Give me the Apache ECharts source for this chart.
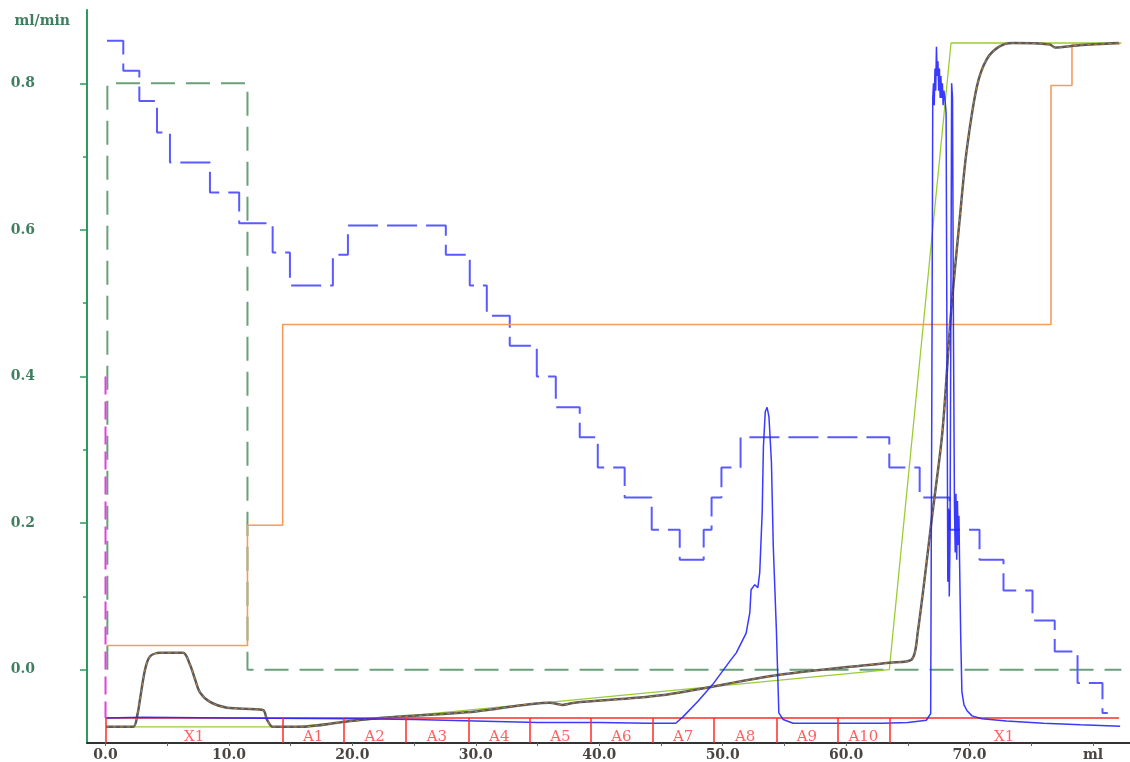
<!DOCTYPE html>
<html><head><meta charset="utf-8">
<script src="https://cdn.jsdelivr.net/npm/echarts@6/dist/echarts.min.js"></script>
<style>html,body{margin:0;padding:0;background:#fff}#c{width:1130px;height:762px}</style>
</head><body><div id="c"></div>
<script>
// ---- axis values ----
const xLabelValues = [0, 10, 20, 30, 40, 50, 60, 70, 80];
const xTickValues = [0, 5, 10, 15, 20, 25, 30, 35, 40, 45, 50, 55, 60, 65, 70, 75, 80];
const yLabelValues = [0, 0.2, 0.4, 0.6, 0.8];
const yMinorTickValues = [0.1, 0.3, 0.5, 0.7];

// ---- series values [ml, ml/min] ----
const flowSetpoint = [[0.15, 0.0], [0.15, 0.8], [11.5, 0.8], [11.5, 0.0], [82.3, 0.0]];
const pressureSteps = [
  [0.12, 0.858], [1.44, 0.817], [2.74, 0.776], [4.17, 0.733], [5.22, 0.692], [8.46, 0.651],
  [10.83, 0.609], [13.54, 0.569], [14.94, 0.524], [18.42, 0.566], [19.64, 0.606], [27.57, 0.566],
  [29.51, 0.524], [30.89, 0.483], [32.75, 0.442], [34.94, 0.400], [36.48, 0.358], [38.42, 0.317],
  [39.88, 0.276], [42.06, 0.235], [44.25, 0.191], [46.52, 0.150], [48.46, 0.191], [49.1, 0.235],
  [49.9, 0.276], [51.45, 0.317], [63.5, 0.276], [65.96, 0.235], [68.38, 0.191], [70.81, 0.150],
  [72.75, 0.108], [75.1, 0.067], [76.9, 0.025], [78.75, -0.018], [80.77, -0.059], [81.2, -0.059]
];
const concSetpoint = [[0.1, 0.033], [11.5, 0.033], [11.5, 0.197], [14.35, 0.197], [14.35, 0.471],
  [76.6, 0.471], [76.6, 0.797], [78.3, 0.797], [78.3, 0.853], [82.2, 0.854]];
const gradientProgram = [[0.1, -0.078], [15.2, -0.078], [63.5, 0.0], [68.5, 0.855], [82.3, 0.855]];
const conductivity = [
  [0.04, -0.078], [2.23, -0.078], [2.6, -0.06], [2.79, -0.041], [3.2, 0.0], [3.6, 0.018], [4.41, 0.023],
  [6.28, 0.023], [6.84, 0.007], [7.25, -0.013], [7.65, -0.031], [8.46, -0.044], [9.84, -0.052],
  [12.75, -0.055], [13.08, -0.068], [13.56, -0.078], [15.75, -0.078], [19.4, -0.071], [22.2, -0.066],
  [30.0, -0.057], [36.0, -0.045], [37.0, -0.048], [38.0, -0.045], [45.0, -0.035], [54.6, -0.007],
  [63.5, 0.0096], [65.3, 0.0137], [65.8, 0.0505], [67.0, 0.214], [67.8, 0.324], [68.5, 0.487],
  [69.2, 0.614], [69.75, 0.706], [70.6, 0.796], [71.4, 0.833], [72.4, 0.850], [73.5, 0.855],
  [76.5, 0.853], [76.9, 0.849], [78.9, 0.852], [82.1, 0.855]
];
const uvTrace = [
  [0.05, -0.066], [3, -0.065], [10, -0.066], [20, -0.067], [25, -0.068], [30, -0.070], [35, -0.072],
  [40, -0.072], [44, -0.073], [46.2, -0.073], [46.8, -0.064], [48.0, -0.043], [49.2, -0.020],
  [50.6, 0.012], [51.1, 0.023], [51.9, 0.050], [52.2, 0.078], [52.3, 0.109], [52.6, 0.116],
  [52.85, 0.112], [53.0, 0.132], [53.2, 0.214], [53.3, 0.304], [53.45, 0.352], [53.6, 0.358],
  [53.75, 0.345], [53.95, 0.283], [54.1, 0.168], [54.35, 0.055], [54.55, -0.059], [54.9, -0.068],
  [55.7, -0.073], [60, -0.073], [63, -0.073], [65, -0.072], [66.5, -0.069], [66.85, -0.060],
  [66.95, 0.40], [67.02, 0.78], [67.08, 0.80], [67.14, 0.77], [67.2, 0.82], [67.26, 0.79],
  [67.32, 0.85], [67.38, 0.81], [67.44, 0.83], [67.5, 0.79], [67.56, 0.82], [67.62, 0.78],
  [67.68, 0.81], [67.74, 0.78], [67.8, 0.80], [67.86, 0.77], [67.92, 0.79], [68.0, 0.78],
  [68.1, 0.76], [68.18, 0.40], [68.24, 0.12], [68.3, 0.22], [68.36, 0.10], [68.42, 0.18],
  [68.48, 0.45], [68.55, 0.80], [68.62, 0.78], [68.7, 0.45], [68.78, 0.22], [68.84, 0.16],
  [68.9, 0.24], [68.96, 0.15], [69.02, 0.23], [69.08, 0.17], [69.14, 0.21], [69.2, 0.14],
  [69.28, 0.05], [69.38, -0.03], [69.55, -0.048], [69.8, -0.056], [70.2, -0.063], [71, -0.067],
  [73, -0.070], [76, -0.073], [79, -0.075], [82.2, -0.077]
];
const injectMark = [[0, 0.4], [0, -0.066]];
const fractionEdges = [0, 14.35, 19.3, 24.3, 29.4, 34.4, 39.3, 44.3, 49.3, 54.35, 59.3, 63.5];
const fractionEnd = 82.1;
const fractionNames = ['X1', 'A1', 'A2', 'A3', 'A4', 'A5', 'A6', 'A7', 'A8', 'A9', 'A10', 'X1'];
const fractionBase = -0.066;
const fractionLabelLevel = -0.0925;

// ---- build ----
const FONT = 'DejaVu Serif';
const AXIS_GREEN = '#2e9a5e';
const ends = fractionEdges.slice(1).concat([fractionEnd]);
const fractionLabelData = fractionNames.map((n, i) => ({
  value: [(fractionEdges[i] + ends[i]) / 2, fractionLabelLevel], name: n
}));
const tickOnlyY = (values, len) => ({
  type: 'value', min: -0.1, max: 0.9, position: 'left', offset: 0,
  axisLine: {show: false, onZero: false},
  axisTick: {show: true, inside: false, length: len, customValues: values,
    lineStyle: {color: AXIS_GREEN, width: 1.5}},
  axisLabel: {show: false},
  splitLine: {show: false}
});

const chart = echarts.init(document.getElementById('c'), null, {renderer: 'canvas'});
chart.setOption({
  animation: false,
  backgroundColor: '#ffffff',
  grid: {left: 87, right: 0, top: 10, bottom: 19, containLabel: false},
  xAxis: [{
    type: 'value', min: -1.5, max: 83,
    axisLine: {show: true, onZero: false, lineStyle: {color: '#333333', width: 2}},
    axisTick: {show: true, length: 3, customValues: xTickValues, lineStyle: {color: '#666'}},
    axisLabel: {
      customValues: xLabelValues, margin: 5,
      formatter: v => (v === 80 ? 'ml' : v.toFixed(1)),
      color: '#4a4540', fontFamily: FONT, fontWeight: 'bold', fontSize: 14
    },
    splitLine: {show: false}
  }],
  yAxis: [{
    type: 'value', min: -0.1, max: 0.9, position: 'left', offset: 0,
    name: 'ml/min', nameLocation: 'end', nameGap: -11,
    nameTextStyle: {align: 'right', verticalAlign: 'middle', padding: [0, 17, 0, 0],
      color: '#3f7f5f', fontFamily: FONT, fontWeight: 'bold', fontSize: 14},
    axisLine: {show: true, onZero: false, lineStyle: {color: AXIS_GREEN, width: 2}},
    axisTick: {show: false},
    axisLabel: {customValues: yLabelValues, margin: 52, formatter: v => v.toFixed(1),
      color: '#3f7f5f', fontFamily: FONT, fontWeight: 'bold', fontSize: 14},
    splitLine: {show: false}
  }, tickOnlyY(yLabelValues, 7), tickOnlyY(yMinorTickValues, 4)],
  series: [
    {type: 'line', data: flowSetpoint, symbol: 'none', silent: true,
      lineStyle: {color: '#6aa07a', width: 2, type: [24, 11]}},
    {type: 'line', data: pressureSteps, step: 'end', symbol: 'none', silent: true,
      lineStyle: {color: '#5a5aff', width: 2, type: [30, 9]}},
    {type: 'line', data: concSetpoint, symbol: 'none', silent: true,
      lineStyle: {color: '#f39c5e', width: 1.6}},
    {type: 'line', data: gradientProgram, symbol: 'none', silent: true,
      lineStyle: {color: '#9acd32', width: 1.3}},
    {type: 'line', data: conductivity, symbol: 'none', smooth: 0.3, silent: true,
      lineStyle: {color: '#5a5a5a', width: 2.5}},
    {type: 'line', data: conductivity, symbol: 'none', smooth: 0.3, silent: true,
      lineStyle: {color: '#c8843e', width: 1, type: [3, 4]}},
    {type: 'line', data: [[0, fractionBase], [fractionEnd, fractionBase]], symbol: 'none', silent: true,
      lineStyle: {color: '#ff2a2a', width: 1.5},
      markLine: {silent: true, symbol: ['none', 'none'], label: {show: false},
        lineStyle: {color: '#ff2a2a', width: 1.5, type: 'solid'},
        data: fractionEdges.map(e => [{coord: [e, fractionBase]}, {coord: [e, -0.1]}])}},
    {type: 'scatter', data: fractionLabelData, symbolSize: 1, silent: true,
      itemStyle: {color: 'rgba(0,0,0,0)'},
      label: {show: true, position: 'inside', formatter: p => p.name,
        color: '#ff3a3a', fontFamily: FONT, fontSize: 15}},
    {type: 'line', data: uvTrace, symbol: 'none', silent: true,
      lineStyle: {color: 'rgba(35,35,255,0.9)', width: 1.5}},
    {type: 'line', data: injectMark, symbol: 'none', silent: true,
      lineStyle: {color: '#e040e0', width: 2, type: [18, 7]}}
  ]
});
</script></body></html>
